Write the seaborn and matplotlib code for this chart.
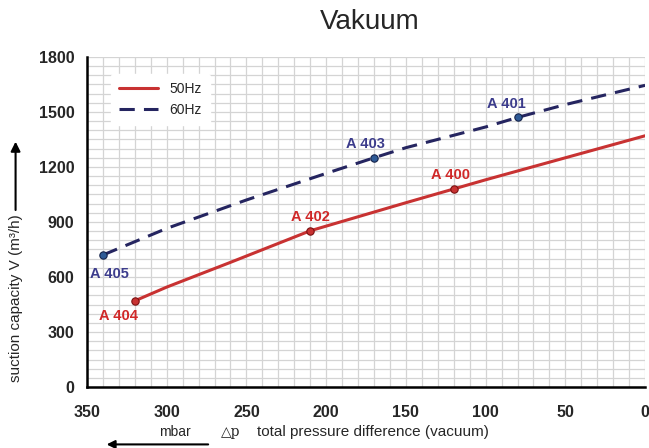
import numpy as np
import pandas as pd
import matplotlib
matplotlib.use("Agg")
import matplotlib.pyplot as plt
import seaborn as sns
from matplotlib.ticker import MultipleLocator
from matplotlib.lines import Line2D

# curve values (mbar, m3/h)
p_50 = [320, 300, 260, 210, 150, 120, 100, 50, 0]
v_50 = [470, 545, 680, 852, 1005, 1080, 1130, 1250, 1370]
p_60 = [340, 300, 250, 200, 170, 150, 100, 80, 50, 0]
v_60 = [720, 865, 1020, 1165, 1250, 1305, 1418, 1470, 1540, 1645]

# labelled pump models
models_50 = ["A 404", "A 402", "A 400"]
mp_50 = [320, 210, 120]
mv_50 = [470, 852, 1080]
models_60 = ["A 405", "A 403", "A 401"]
mp_60 = [340, 170, 80]
mv_60 = [720, 1250, 1470]

red = "#c83232"
navy = "#252560"
red_txt = "#d02828"
navy_txt = "#3c3c8c"

df = pd.concat([
    pd.DataFrame({"p": p_50, "v": v_50, "freq": "50Hz"}),
    pd.DataFrame({"p": p_60, "v": v_60, "freq": "60Hz"}),
])

sns.set_theme(style="white")
plt.rcParams["font.family"] = ["Liberation Sans", "DejaVu Sans"]

fig = plt.figure(figsize=(6.49, 4.48), dpi=100)
ax = fig.add_axes([0.134, 0.136, 0.860, 0.737])

sns.lineplot(data=df, x="p", y="v", hue="freq", style="freq",
             palette={"50Hz": red, "60Hz": navy},
             dashes={"50Hz": "", "60Hz": (5, 3)},
             linewidth=2.2, sort=False, ax=ax, legend=False)

sns.scatterplot(x=mp_50, y=mv_50, color=red, edgecolor="#7a1010",
                s=28, linewidth=0.8, zorder=5, ax=ax)
sns.scatterplot(x=mp_60, y=mv_60, color="#2e5a96", edgecolor="#14224a",
                s=28, linewidth=0.8, zorder=5, ax=ax)

offs_50 = [(-12, -11), (0, 10), (-2, 10)]
offs_60 = [(5, -14), (-6, 10), (-8, 10)]
for name, x, y, o in zip(models_50, mp_50, mv_50, offs_50):
    ax.annotate(name, (x, y), xytext=o, textcoords="offset points",
                ha="center", va="center", color=red_txt,
                fontsize=10.5, fontweight="bold")
for name, x, y, o in zip(models_60, mp_60, mv_60, offs_60):
    ax.annotate(name, (x, y), xytext=o, textcoords="offset points",
                ha="center", va="center", color=navy_txt,
                fontsize=10.5, fontweight="bold")

ax.set_xlim(350, 0)
ax.set_ylim(0, 1800)
ax.xaxis.set_major_locator(MultipleLocator(50))
ax.xaxis.set_minor_locator(MultipleLocator(10))
ax.yaxis.set_major_locator(MultipleLocator(300))
ax.yaxis.set_minor_locator(MultipleLocator(50))
ax.grid(which="both", color="#d4d4d4", linewidth=0.9)
ax.set_axisbelow(True)

for s in ["top", "right"]:
    ax.spines[s].set_visible(False)
for s in ["left", "bottom"]:
    ax.spines[s].set_color("black")
    ax.spines[s].set_linewidth(1.8)

ax.tick_params(which="major", direction="out", length=5, width=1.5,
               color="black", labelsize=11.5, pad=4)
ax.tick_params(which="minor", length=0)
ax.tick_params(axis="x", pad=8)
for lab in ax.get_xticklabels() + ax.get_yticklabels():
    lab.set_fontweight("bold")
ax.set_xlabel("")
ax.set_ylabel("")

# legend
handles = [Line2D([], [], color=red, lw=2.2),
           Line2D([], [], color=navy, lw=2.2, dashes=(5, 3))]
leg = ax.legend(handles, ["50Hz", "60Hz"], loc="upper left",
                bbox_to_anchor=(0.03, 0.97), frameon=True, fontsize=10,
                handlelength=2.8, borderpad=0.6, labelspacing=0.5)
leg.get_frame().set_edgecolor("white")
leg.get_frame().set_facecolor("white")
leg.get_frame().set_alpha(1)

fig.text(0.57, 0.95, "Vakuum", ha="center", va="center", fontsize=20)

fig.text(0.024, 0.335, "suction capacity V (m³/h)", rotation=90,
         ha="center", va="center", fontsize=11)
ax.annotate("", xy=(0.024, 0.69), xytext=(0.024, 0.525),
            xycoords="figure fraction",
            arrowprops=dict(arrowstyle="-|>", color="black", lw=1.5,
                            mutation_scale=14))

fig.text(0.355, 0.035, "\u25b3p", ha="center", va="center", fontsize=10,
         family="DejaVu Serif")
fig.text(0.575, 0.035, "total pressure difference (vacuum)",
         ha="center", va="center", fontsize=11)
fig.text(0.27, 0.035, "mbar", ha="center", va="center", fontsize=10)
ax.annotate("", xy=(0.16, 0.008), xytext=(0.325, 0.008),
            xycoords="figure fraction",
            arrowprops=dict(arrowstyle="-|>", color="black", lw=1.5,
                            mutation_scale=12))

fig.savefig("out.png", dpi=100)
